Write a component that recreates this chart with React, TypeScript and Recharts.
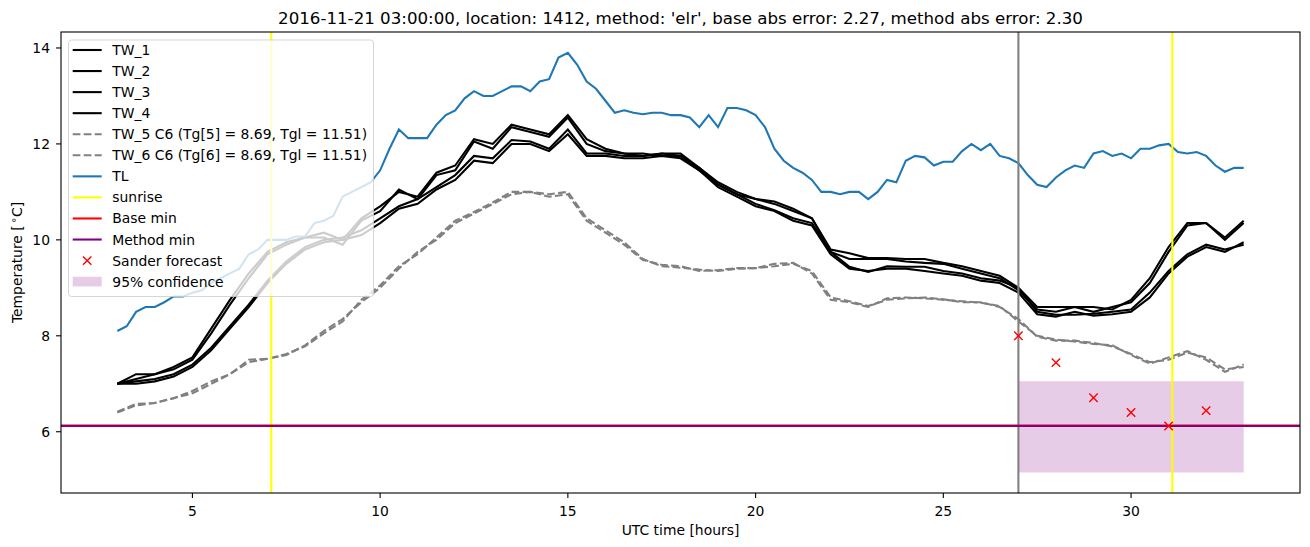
import React from "react"
import {
  ComposedChart,
  Line,
  Scatter,
  XAxis,
  YAxis,
  ReferenceLine,
  ReferenceArea,
} from "recharts"

// time axis (UTC hours)
const hoursHalf = [
  3, 3.5, 4, 4.5, 5, 5.5, 6, 6.5, 7, 7.5,
  8, 8.5, 9, 9.5, 10, 10.5, 11, 11.5, 12, 12.5,
  13, 13.5, 14, 14.5, 15, 15.5, 16, 16.5, 17, 17.5,
  18, 18.5, 19, 19.5, 20, 20.5, 21, 21.5, 22, 22.5,
  23, 23.5, 24, 24.5, 25, 25.5, 26, 26.5, 27, 27.5,
  28, 28.5, 29, 29.5, 30, 30.5, 31, 31.5, 32, 32.5,
  33,
]

const hoursQuarter = [
  3, 3.25, 3.5, 3.75, 4, 4.25, 4.5, 4.75, 5, 5.25, 5.5, 5.75, 6, 6.25, 6.5, 6.75, 7, 7.25, 7.5, 7.75,
  8, 8.25, 8.5, 8.75, 9, 9.25, 9.5, 9.75, 10, 10.25, 10.5, 10.75, 11, 11.25, 11.5, 11.75, 12, 12.25, 12.5, 12.75,
  13, 13.25, 13.5, 13.75, 14, 14.25, 14.5, 14.75, 15, 15.25, 15.5, 15.75, 16, 16.25, 16.5, 16.75, 17, 17.25, 17.5, 17.75,
  18, 18.25, 18.5, 18.75, 19, 19.25, 19.5, 19.75, 20, 20.25, 20.5, 20.75, 21, 21.25, 21.5, 21.75, 22, 22.25, 22.5, 22.75,
  23, 23.25, 23.5, 23.75, 24, 24.25, 24.5, 24.75, 25, 25.25, 25.5, 25.75, 26, 26.25, 26.5, 26.75, 27, 27.25, 27.5, 27.75,
  28, 28.25, 28.5, 28.75, 29, 29.25, 29.5, 29.75, 30, 30.25, 30.5, 30.75, 31, 31.25, 31.5, 31.75, 32, 32.25, 32.5, 32.75,
  33,
]

const tw1 = [
  7.0, 7.2, 7.2, 7.35, 7.55, 8.15, 8.75, 9.3, 9.75, 9.95,
  10.05, 10.15, 10.0, 10.45, 10.7, 11.0, 10.9, 11.4, 11.55, 12.1,
  12.0, 12.4, 12.3, 12.2, 12.6, 12.1, 11.9, 11.8, 11.75, 11.8,
  11.8, 11.5, 11.2, 11.0, 10.85, 10.8, 10.65, 10.45, 9.8, 9.72,
  9.62, 9.62, 9.6, 9.6, 9.52, 9.45, 9.35, 9.25, 9.0, 8.6,
  8.6, 8.6, 8.6, 8.55, 8.75, 9.2, 9.85, 10.35, 10.35, 10.05,
  10.4,
]
const tw2 = [
  7.0, 7.1, 7.2, 7.3, 7.5, 8.05, 8.65, 9.2, 9.7, 9.9,
  10.05, 10.05, 9.9, 10.4, 10.6, 11.05, 10.85, 11.35, 11.45, 12.05,
  11.9, 12.35, 12.25, 12.15, 12.55, 12.0, 11.85, 11.8, 11.8, 11.75,
  11.75, 11.45, 11.15, 10.95, 10.85, 10.75, 10.6, 10.45, 9.75, 9.6,
  9.6, 9.6, 9.55, 9.52, 9.5, 9.4, 9.3, 9.2, 8.95, 8.55,
  8.5, 8.6, 8.5, 8.6, 8.7, 9.1, 9.75, 10.3, 10.35, 10.0,
  10.35,
]
const tw3 = [
  7.0, 7.05, 7.1, 7.2, 7.4, 7.75, 8.2, 8.65, 9.15, 9.55,
  9.85, 10.0, 10.05, 10.2, 10.45, 10.7, 10.85, 11.1, 11.35, 11.75,
  11.7, 12.08, 12.05, 11.9, 12.3, 11.8, 11.8, 11.75, 11.75, 11.8,
  11.75, 11.5, 11.15, 10.95, 10.75, 10.62, 10.45, 10.35, 9.75, 9.44,
  9.33, 9.45, 9.44, 9.44, 9.35, 9.3, 9.2, 9.15, 9.0, 8.5,
  8.44, 8.44, 8.46, 8.5, 8.55, 8.9, 9.35, 9.7, 9.9, 9.8,
  9.9,
]
const tw4 = [
  7.0, 7.0, 7.05, 7.15, 7.35, 7.7, 8.15, 8.6, 9.1, 9.5,
  9.8, 9.95, 10.0, 10.1, 10.35, 10.65, 10.75, 11.05, 11.25, 11.65,
  11.6, 12.0, 12.0, 11.85, 12.2, 11.75, 11.75, 11.7, 11.7, 11.75,
  11.7, 11.45, 11.1, 10.9, 10.7, 10.6, 10.4, 10.3, 9.7, 9.4,
  9.35, 9.4, 9.4, 9.35, 9.3, 9.25, 9.15, 9.1, 8.9, 8.45,
  8.4, 8.5, 8.42, 8.45, 8.5, 8.8, 9.3, 9.65, 9.85, 9.75,
  9.95,
]
const tw5 = [
  6.42, 6.58, 6.6, 6.7, 6.85, 7.05, 7.2, 7.5, 7.52, 7.62,
  7.78, 8.05, 8.3, 8.75, 9.05, 9.45, 9.7, 10.05, 10.4, 10.58,
  10.78, 11.0, 11.0, 10.9, 10.95, 10.4, 10.15, 9.9, 9.58, 9.48,
  9.45, 9.35, 9.37, 9.41, 9.41, 9.5, 9.52, 9.3, 8.75, 8.7,
  8.6, 8.78, 8.8, 8.78, 8.75, 8.72, 8.69, 8.62, 8.3, 8.0,
  7.92, 7.88, 7.83, 7.8, 7.6, 7.42, 7.55, 7.68, 7.5, 7.25,
  7.4,
]
const tw6 = [
  6.4, 6.55, 6.6, 6.7, 6.8, 7.0, 7.2, 7.45, 7.52, 7.6,
  7.8, 8.1, 8.35, 8.7, 9.0, 9.4, 9.75, 10.0, 10.35, 10.55,
  10.75, 10.95, 11.0, 10.95, 11.0, 10.45, 10.2, 9.95, 9.6, 9.45,
  9.42, 9.38, 9.35, 9.4, 9.41, 9.45, 9.5, 9.35, 8.8, 8.72,
  8.62, 8.75, 8.78, 8.8, 8.76, 8.7, 8.7, 8.6, 8.35, 7.98,
  7.9, 7.9, 7.85, 7.78, 7.62, 7.45, 7.5, 7.65, 7.55, 7.3,
  7.35,
]

const tl = [
  8.1, 8.2, 8.5, 8.6, 8.6, 8.7, 8.82, 8.82, 8.9, 8.95, 9.1, 9.2, 9.3, 9.4, 9.7, 9.8, 10.0, 10.0, 10.0, 10.07,
  10.07, 10.35, 10.4, 10.5, 10.9, 11.0, 11.1, 11.2, 11.45, 11.9, 12.3, 12.12, 12.12, 12.12, 12.4, 12.6, 12.7, 12.95, 13.1, 13.0,
  13.0, 13.1, 13.2, 13.2, 13.1, 13.3, 13.35, 13.8, 13.9, 13.65, 13.3, 13.15, 12.9, 12.65, 12.7, 12.65, 12.62, 12.65, 12.65, 12.6,
  12.6, 12.55, 12.35, 12.6, 12.35, 12.75, 12.75, 12.7, 12.6, 12.35, 11.9, 11.65, 11.5, 11.4, 11.25, 11.0, 11.0, 10.95, 11.0, 11.0,
  10.85, 11.0, 11.25, 11.2, 11.65, 11.75, 11.72, 11.55, 11.63, 11.63, 11.85, 12.0, 11.87, 12.0, 11.75, 11.7, 11.6, 11.35, 11.15, 11.1,
  11.3, 11.45, 11.55, 11.5, 11.8, 11.85, 11.75, 11.8, 11.7, 11.9, 11.9, 11.97, 12.0, 11.83, 11.8, 11.83, 11.75, 11.55, 11.42, 11.5,
  11.5,
]

const sanderHours = [27, 28, 29, 30, 31, 32]
const sanderValues = [8.0, 7.44, 6.71, 6.4, 6.12, 6.44]

const sunriseHours = [7.1, 31.1]
const forecastHour = 27
const baseMin = 6.13
const methodMin = 6.12
const confidence = { from: 27, to: 33, low: 5.15, high: 7.05 }

const xTicks = [5, 10, 15, 20, 25, 30]
const yTicks = [6, 8, 10, 12, 14]

const title =
  "2016-11-21 03:00:00, location: 1412, method: 'elr', base abs error: 2.27, method abs error: 2.30"

const toPoints = (xs: number[], ys: number[]) => xs.map((h, i) => ({ h, v: ys[i] }))

const FONT = "'DejaVu Sans', sans-serif"
const LW = 2.08

const XMark = (props: any) => {
  const { cx, cy } = props
  if (cx == null || cy == null) return null
  const r = 4.2
  return (
    <g>
      <line x1={cx - r} y1={cy - r} x2={cx + r} y2={cy + r} stroke="#ff0000" strokeWidth={1.4} />
      <line x1={cx - r} y1={cy + r} x2={cx + r} y2={cy - r} stroke="#ff0000" strokeWidth={1.4} />
    </g>
  )
}

type LegendItem = { label: string; kind: "line" | "dash" | "x" | "patch"; color: string }

const legendItems: LegendItem[] = [
  { label: "TW_1", kind: "line", color: "#000000" },
  { label: "TW_2", kind: "line", color: "#000000" },
  { label: "TW_3", kind: "line", color: "#000000" },
  { label: "TW_4", kind: "line", color: "#000000" },
  { label: "TW_5 C6 (Tg[5] = 8.69, Tgl = 11.51)", kind: "dash", color: "#808080" },
  { label: "TW_6 C6 (Tg[6] = 8.69, Tgl = 11.51)", kind: "dash", color: "#808080" },
  { label: "TL", kind: "line", color: "#1f77b4" },
  { label: "sunrise", kind: "line", color: "#ffff00" },
  { label: "Base min", kind: "line", color: "#ff0000" },
  { label: "Method min", kind: "line", color: "#800080" },
  { label: "Sander forecast", kind: "x", color: "#ff0000" },
  { label: "95% confidence", kind: "patch", color: "#800080" },
]

const PLOT = { left: 61, top: 32, right: 1300, bottom: 493 }

export default function App() {
  const twSeries = [tw1, tw2, tw3, tw4]
  const dashed = [tw5, tw6]
  const sander = toPoints(sanderHours, sanderValues)

  return (
    <div style={{ position: "absolute", left: 0, top: 0, width: 1310, height: 547, background: "#fff", fontFamily: FONT }}>
      <ComposedChart width={1310} height={547} margin={{ top: 32, right: 10, bottom: 0, left: 0 }}>
        <XAxis
          dataKey="h"
          type="number"
          domain={[1.5, 34.5]}
          allowDataOverflow
          ticks={xTicks}
          height={54}
          axisLine={false}
          tickLine={{ stroke: "#000", strokeWidth: 1.1 }}
          tickSize={5}
          tickMargin={8}
          tick={{ fill: "#000", fontSize: 13.9, fontFamily: FONT }}
        />
        <YAxis
          type="number"
          domain={[4.723, 14.333]}
          allowDataOverflow
          ticks={yTicks}
          width={61}
          axisLine={false}
          tickLine={{ stroke: "#000", strokeWidth: 1.1 }}
          tickSize={5}
          tickMargin={6}
          tick={{ fill: "#000", fontSize: 13.9, fontFamily: FONT }}
        />
        <ReferenceArea
          x1={confidence.from}
          x2={confidence.to}
          y1={confidence.low}
          y2={confidence.high}
          fill="#800080"
          fillOpacity={0.2}
          stroke="none"
        />
        {twSeries.map((s, i) => (
          <Line
            key={"tw" + i}
            data={toPoints(hoursHalf, s)}
            dataKey="v"
            type="linear"
            stroke="#000000"
            strokeWidth={LW}
            dot={false}
            isAnimationActive={false}
          />
        ))}
        {dashed.map((s, i) => (
          <Line
            key={"twd" + i}
            data={toPoints(hoursHalf, s)}
            dataKey="v"
            type="linear"
            stroke="#808080"
            strokeWidth={LW}
            strokeDasharray="7.7 3.3"
            dot={false}
            isAnimationActive={false}
          />
        ))}
        <Line
          data={toPoints(hoursQuarter, tl)}
          dataKey="v"
          type="linear"
          stroke="#1f77b4"
          strokeWidth={LW}
          dot={false}
          isAnimationActive={false}
        />
        <ReferenceLine x={forecastHour} stroke="#808080" strokeWidth={LW} />
        {sunriseHours.map((h) => (
          <ReferenceLine key={h} x={h} stroke="#ffff00" strokeWidth={LW} />
        ))}
        <ReferenceLine y={baseMin} stroke="#ff0000" strokeWidth={LW} zIndex={450} />
        <ReferenceLine y={methodMin} stroke="#800080" strokeWidth={LW} zIndex={460} />
        <Scatter data={sander} dataKey="v" shape={<XMark />} isAnimationActive={false} />
      </ComposedChart>

      <svg width={1310} height={547} style={{ position: "absolute", left: 0, top: 0, pointerEvents: "none" }}>
        <rect
          x={PLOT.left}
          y={PLOT.top}
          width={PLOT.right - PLOT.left}
          height={PLOT.bottom - PLOT.top}
          fill="none"
          stroke="#000"
          strokeWidth={1.1}
        />
        <text x={680.5} y={23.5} textAnchor="middle" fontSize={16.67} fontFamily={FONT} fill="#000">
          {title}
        </text>
        <text x={680.5} y={534.5} textAnchor="middle" fontSize={13.9} fontFamily={FONT} fill="#000">
          UTC time [hours]
        </text>
        <text
          x={21.5}
          y={262.5}
          transform="rotate(-90 21.5 262.5)"
          textAnchor="middle"
          fontSize={13.9}
          fontFamily={FONT}
          fill="#000"
        >
          Temperature [
          <tspan dy={-5} fontSize={10}>
            {"\u2009\u2218"}
          </tspan>
          <tspan dy={5}>C]</tspan>
        </text>

        <g transform="translate(68.5 40)">
          <rect
            x={0}
            y={0}
            width={305}
            height={256.5}
            rx={3}
            fill="#ffffff"
            fillOpacity={0.8}
            stroke="#cccccc"
            strokeOpacity={0.8}
            strokeWidth={1}
          />
          {legendItems.map((it, i) => {
            const cy = 10 + i * 21.06
            let handle: React.ReactNode = null
            if (it.kind === "line") {
              handle = <line x1={4.2} x2={33.2} y1={cy} y2={cy} stroke={it.color} strokeWidth={LW} />
            } else if (it.kind === "dash") {
              handle = (
                <line x1={4.2} x2={33.2} y1={cy} y2={cy} stroke={it.color} strokeWidth={LW} strokeDasharray="7.7 3.3" />
              )
            } else if (it.kind === "x") {
              handle = <XMark cx={18.7} cy={cy} />
            } else {
              handle = <rect x={4.2} y={cy - 4.9} width={29} height={9.7} fill={it.color} fillOpacity={0.2} />
            }
            return (
              <g key={it.label}>
                {handle}
                <text x={43.8} y={cy + 5} fontSize={13.9} fontFamily={FONT} fill="#000">
                  {it.label}
                </text>
              </g>
            )
          })}
        </g>
      </svg>
    </div>
  )
}
